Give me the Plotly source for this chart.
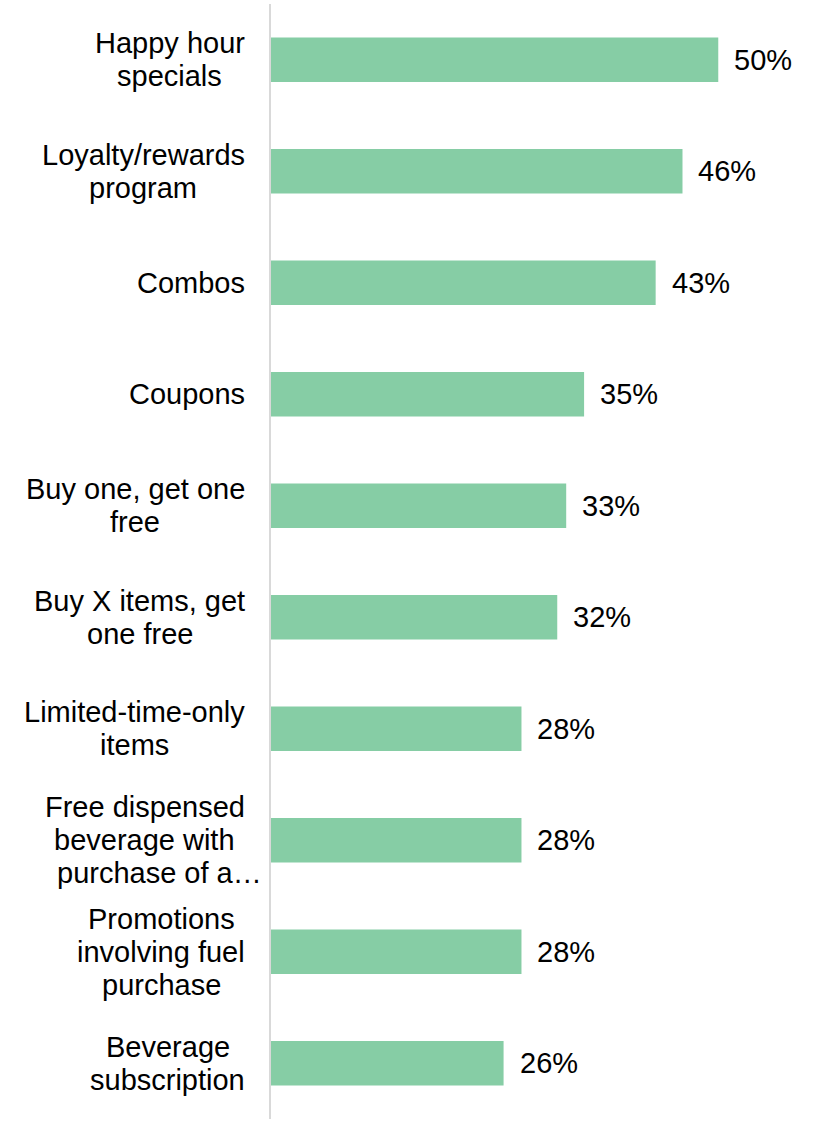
import plotly.graph_objects as go

# Promotion types (line breaks as shown in the axis labels) and share of respondents (%)
labels = [
    "Happy hour<br>specials",
    "Loyalty/rewards<br>program",
    "Combos",
    "Coupons",
    "Buy one, get one<br>free",
    "Buy X items, get<br>one free",
    "Limited-time-only<br>items",
    "Free dispensed<br>beverage with<br>purchase of a…",
    "Promotions<br>involving fuel<br>purchase",
    "Beverage<br>subscription",
]
values = [50, 46, 43, 35, 33, 32, 28, 28, 28, 26]

BAR_COLOR = "#86CDA5"
FONT = "Liberation Sans, Arial, sans-serif"
FONT_SIZE = 29
LINE_GAP = 33
LABEL_RIGHT = -24  # px from the axis line to the right edge of a label block

# Arial / Liberation Sans advance widths (1/1000 em), used to centre
# the lines of each multi-line category label within its block
ADV = {
    " ": 278, ",": 278, "-": 333, ".": 278, "/": 278, "…": 1000, "%": 889,
    "B": 667, "C": 722, "F": 611, "H": 722, "L": 556, "P": 667, "X": 667,
    "a": 556, "b": 556, "c": 500, "d": 556, "e": 556, "f": 278, "g": 556,
    "h": 556, "i": 222, "j": 222, "k": 500, "l": 222, "m": 833, "n": 556,
    "o": 556, "p": 556, "q": 556, "r": 333, "s": 500, "t": 278, "u": 556,
    "v": 500, "w": 722, "x": 500, "y": 500, "z": 500,
}


def text_width(s, size):
    return sum(ADV.get(ch, 556) for ch in s) * size / 1000.0


cats = [l.replace("<br>", " ") for l in labels]

fig = go.Figure(
    go.Bar(
        x=values,
        y=cats,
        orientation="h",
        marker=dict(color=BAR_COLOR, line=dict(width=0)),
        width=0.4,
        hoverinfo="skip",
    )
)

annotations = []
# category labels: one annotation per line, lines centred within a right-aligned
# block; a trailing ellipsis hangs past the block edge
for cat, lab in zip(cats, labels):
    lines = lab.split("<br>")
    n = len(lines)
    full = [text_width(s, FONT_SIZE) for s in lines]
    core = [text_width(s.rstrip("…"), FONT_SIZE) for s in lines]
    block = max(core)
    for i, line in enumerate(lines):
        annotations.append(dict(
            x=0, xref="paper", y=cat, yref="y",
            text=line, showarrow=False, xanchor="right", yanchor="middle",
            xshift=LABEL_RIGHT - (block - core[i]) / 2 + (full[i] - core[i]),
            yshift=-(i - (n - 1) / 2) * LINE_GAP,
            font=dict(family=FONT, size=FONT_SIZE, color="#000000"),
        ))

# value labels to the right of each bar
for cat, v in zip(cats, values):
    annotations.append(dict(
        x=v, xref="x", y=cat, yref="y",
        text=f"{v}%", showarrow=False, xanchor="left", yanchor="middle",
        xshift=14,
        font=dict(family=FONT, size=FONT_SIZE, color="#000000"),
    ))

fig.update_layout(
    width=822,
    height=1124,
    margin=dict(l=271, r=59, t=4, b=5),
    paper_bgcolor="white",
    plot_bgcolor="white",
    showlegend=False,
    xaxis=dict(
        range=[0, 55],
        showgrid=False,
        zeroline=False,
        showticklabels=False,
        showline=False,
        fixedrange=True,
    ),
    yaxis=dict(
        categoryorder="array",
        categoryarray=cats,
        range=[9.5, -0.5],
        showgrid=False,
        zeroline=False,
        showticklabels=False,
        showline=True,
        linecolor="#D9D9D9",
        linewidth=2,
        ticks="",
        fixedrange=True,
    ),
    annotations=annotations,
)

fig.write_html("out.html")
